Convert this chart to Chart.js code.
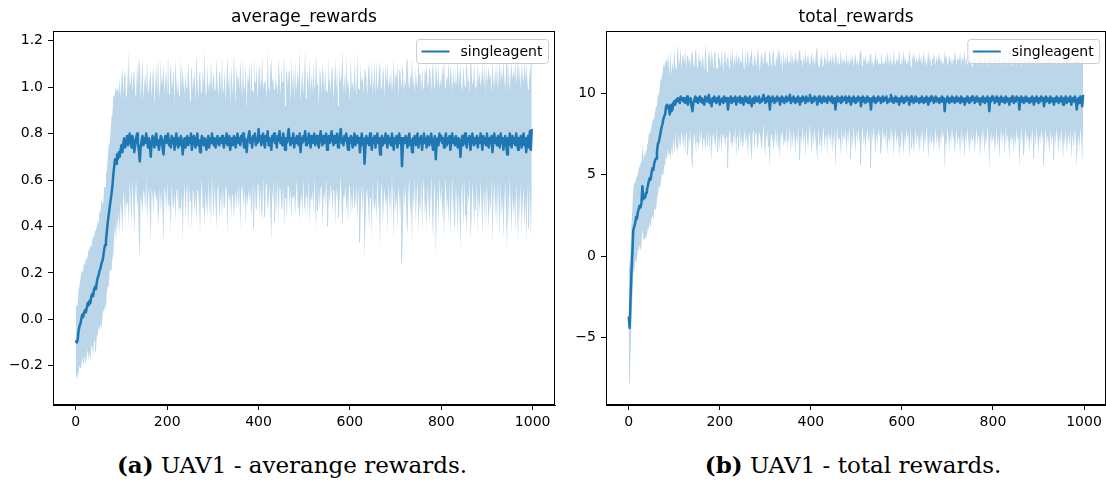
<!DOCTYPE html>
<html>
<head>
<meta charset="utf-8">
<script src="https://cdn.jsdelivr.net/npm/chart.js@4.4.0/dist/chart.umd.min.js"></script>
<style>
  html, body { margin: 0; padding: 0; background: #fff; overflow: hidden; }
  body { width: 1106px; height: 482px; position: relative; }
  .panel { position: absolute; top: 0; }
  .caption {
    position: absolute; top: 453px;
    font-family: 'DejaVu Serif', serif; font-size: 23px; line-height: 23px;
    white-space: nowrap; transform: translateX(-50%); color: #000;
  }
</style>
</head>
<body>
<div class="panel" style="left:0"><canvas id="avgChart" width="562" height="440"></canvas></div>
<div class="panel" style="left:553px"><canvas id="totChart" width="562" height="440"></canvas></div>
<div class="caption" style="left:292px"><b>(a)</b> UAV1 - averange rewards.</div>
<div class="caption" style="left:853px"><b>(b)</b> UAV1 - total rewards.</div>

<script>
// Episodes are logged every STEP episodes (0, 2, ... 998), 20 values per row = 40 episodes
const STEP = 2;
const seriesName = 'singleagent';

const xTicks = [0, 200, 400, 600, 800, 1000];
const avgTicks = [-0.2, 0.0, 0.2, 0.4, 0.6, 0.8, 1.0, 1.2];
const totTicks = [-5, 0, 5, 10];

// average_rewards: mean and std per logged episode
const avgMean = [
  -0.09, -0.10, -0.09, -0.05, -0.03, -0.02, 0.00, 0.02, 0.01, 0.03,  0.04, 0.03, 0.05, 0.07, 0.06, 0.08, 0.07, 0.10, 0.11, 0.10,
  0.13, 0.14, 0.13, 0.16, 0.18, 0.19, 0.21, 0.22, 0.24, 0.25,  0.27, 0.30, 0.32, 0.34, 0.38, 0.42, 0.45, 0.48, 0.51, 0.54,
  0.57, 0.62, 0.66, 0.69, 0.67, 0.71, 0.69, 0.72, 0.70, 0.73,  0.75, 0.72, 0.76, 0.78, 0.74, 0.77, 0.79, 0.75, 0.78, 0.80,
  0.76, 0.74, 0.79, 0.77, 0.72, 0.75, 0.78, 0.80, 0.76, 0.73,  0.68, 0.74, 0.77, 0.79, 0.75, 0.78, 0.76, 0.80, 0.77, 0.74,
  0.78, 0.75, 0.70, 0.76, 0.79, 0.77, 0.74, 0.78, 0.80, 0.75,  0.77, 0.73, 0.76, 0.79, 0.78, 0.74, 0.71, 0.77, 0.79, 0.76,
  0.78, 0.80, 0.75, 0.77, 0.74, 0.79, 0.76, 0.78, 0.73, 0.77,  0.80, 0.76, 0.74, 0.78, 0.75, 0.79, 0.77, 0.71, 0.76, 0.78,
  0.74, 0.77, 0.79, 0.75, 0.78, 0.76, 0.80, 0.73, 0.77, 0.79,  0.76, 0.74, 0.78, 0.80, 0.75, 0.77, 0.72, 0.76, 0.79, 0.77,
  0.75, 0.78, 0.76, 0.73, 0.77, 0.79, 0.74, 0.78, 0.76, 0.80,  0.77, 0.75, 0.78, 0.74, 0.76, 0.79, 0.77, 0.75, 0.78, 0.76,
  0.79, 0.77, 0.74, 0.78, 0.76, 0.80, 0.75, 0.77, 0.79, 0.73,  0.76, 0.78, 0.75, 0.79, 0.77, 0.74, 0.78, 0.80, 0.76, 0.78,
  0.75, 0.79, 0.77, 0.80, 0.74, 0.78, 0.76, 0.72, 0.77, 0.79,  0.81, 0.76, 0.78, 0.74, 0.79, 0.77, 0.80, 0.75, 0.78, 0.76,
  0.82, 0.77, 0.79, 0.75, 0.78, 0.80, 0.76, 0.74, 0.79, 0.77,  0.81, 0.75, 0.78, 0.76, 0.73, 0.79, 0.77, 0.80, 0.76, 0.78,
  0.74, 0.79, 0.77, 0.81, 0.76, 0.78, 0.75, 0.80, 0.77, 0.73,  0.78, 0.76, 0.79, 0.82, 0.77, 0.75, 0.78, 0.76, 0.80, 0.74,
  0.78, 0.76, 0.79, 0.77, 0.75, 0.80, 0.72, 0.78, 0.76, 0.79,  0.77, 0.81, 0.75, 0.78, 0.76, 0.80, 0.77, 0.74, 0.79, 0.76,
  0.78, 0.80, 0.75, 0.77, 0.79, 0.76, 0.74, 0.78, 0.81, 0.77,  0.75, 0.79, 0.76, 0.78, 0.80, 0.73, 0.77, 0.79, 0.76, 0.78,
  0.81, 0.77, 0.75, 0.79, 0.76, 0.78, 0.80, 0.74, 0.77, 0.79,  0.82, 0.76, 0.78, 0.75, 0.79, 0.77, 0.80, 0.76, 0.73, 0.78,
  0.76, 0.79, 0.77, 0.74, 0.78, 0.80, 0.75, 0.77, 0.79, 0.76,  0.78, 0.72, 0.77, 0.80, 0.75, 0.78, 0.67, 0.74, 0.79, 0.76,
  0.78, 0.75, 0.80, 0.77, 0.73, 0.78, 0.76, 0.79, 0.74, 0.77,  0.80, 0.76, 0.78, 0.71, 0.77, 0.79, 0.75, 0.78, 0.76, 0.80,
  0.77, 0.74, 0.79, 0.76, 0.78, 0.75, 0.80, 0.77, 0.73, 0.78,  0.76, 0.79, 0.74, 0.77, 0.80, 0.76, 0.78, 0.66, 0.75, 0.78,
  0.76, 0.79, 0.77, 0.74, 0.78, 0.80, 0.75, 0.77, 0.72, 0.78,  0.76, 0.79, 0.75, 0.77, 0.80, 0.74, 0.78, 0.76, 0.79, 0.73,
  0.77, 0.80, 0.76, 0.78, 0.74, 0.79, 0.77, 0.75, 0.78, 0.80,  0.76, 0.73, 0.77, 0.79, 0.69, 0.76, 0.78, 0.75, 0.80, 0.77,
  0.79, 0.76, 0.78, 0.74, 0.77, 0.80, 0.75, 0.78, 0.76, 0.79,  0.73, 0.77, 0.80, 0.76, 0.78, 0.75, 0.79, 0.77, 0.74, 0.78,
  0.76, 0.70, 0.77, 0.79, 0.75, 0.78, 0.80, 0.76, 0.74, 0.78,  0.77, 0.79, 0.73, 0.76, 0.80, 0.77, 0.75, 0.78, 0.76, 0.79,
  0.74, 0.78, 0.76, 0.80, 0.77, 0.73, 0.79, 0.76, 0.78, 0.75,  0.80, 0.77, 0.74, 0.78, 0.76, 0.79, 0.72, 0.77, 0.80, 0.76,
  0.78, 0.75, 0.79, 0.77, 0.74, 0.80, 0.76, 0.78, 0.73, 0.77,  0.79, 0.76, 0.71, 0.78, 0.75, 0.80, 0.77, 0.74, 0.79, 0.76,
  0.78, 0.75, 0.80, 0.77, 0.73, 0.78, 0.76, 0.79, 0.74, 0.77,  0.80, 0.75, 0.78, 0.72, 0.77, 0.79, 0.74, 0.81, 0.73, 0.82
];
const avgStd = [
  0.14, 0.16, 0.15, 0.18, 0.17, 0.19, 0.21, 0.18, 0.20, 0.22,  0.19, 0.23, 0.21, 0.20, 0.24, 0.22, 0.25, 0.21, 0.23, 0.26,
  0.22, 0.24, 0.27, 0.23, 0.25, 0.22, 0.26, 0.24, 0.28, 0.25,  0.23, 0.27, 0.25, 0.29, 0.26, 0.28, 0.31, 0.27, 0.30, 0.33,
  0.31, 0.34, 0.30, 0.29, 0.33, 0.27, 0.31, 0.25, 0.34, 0.22,  0.29, 0.36, 0.21, 0.27, 0.33, 0.19, 0.30, 0.24, 0.38, 0.20,
  0.26, 0.33, 0.19, 0.28, 0.36, 0.22, 0.18, 0.31, 0.25, 0.39,  0.42, 0.20, 0.27, 0.34, 0.19, 0.24, 0.30, 0.18, 0.35, 0.23,
  0.21, 0.29, 0.37, 0.19, 0.26, 0.32, 0.18, 0.24, 0.30, 0.21,  0.36, 0.27, 0.19, 0.33, 0.23, 0.29, 0.39, 0.20, 0.25, 0.31,
  0.18, 0.34, 0.22, 0.28, 0.37, 0.20, 0.26, 0.31, 0.19, 0.35,  0.24, 0.21, 0.30, 0.18, 0.27, 0.33, 0.22, 0.38, 0.25, 0.19,
  0.32, 0.23, 0.20, 0.36, 0.26, 0.18, 0.29, 0.34, 0.21, 0.25,  0.31, 0.19, 0.37, 0.24, 0.20, 0.28, 0.35, 0.22, 0.18, 0.30,
  0.26, 0.38, 0.21, 0.24, 0.33, 0.19, 0.29, 0.22, 0.36, 0.18,  0.27, 0.31, 0.20, 0.25, 0.37, 0.23, 0.19, 0.32, 0.28, 0.21,
  0.35, 0.20, 0.26, 0.30, 0.18, 0.24, 0.39, 0.22, 0.28, 0.19,  0.33, 0.25, 0.21, 0.36, 0.27, 0.18, 0.31, 0.23, 0.29, 0.20,
  0.37, 0.24, 0.19, 0.32, 0.26, 0.21, 0.35, 0.18, 0.28, 0.23,  0.30, 0.20, 0.34, 0.25, 0.19, 0.38, 0.22, 0.27, 0.31, 0.18,
  0.24, 0.33, 0.21, 0.28, 0.36, 0.19, 0.26, 0.30, 0.22, 0.18,  0.35, 0.25, 0.20, 0.32, 0.39, 0.23, 0.27, 0.19, 0.34, 0.21,
  0.29, 0.18, 0.36, 0.24, 0.20, 0.31, 0.27, 0.22, 0.38, 0.19,  0.26, 0.33, 0.21, 0.25, 0.30, 0.18, 0.35, 0.23, 0.28, 0.20,
  0.34, 0.22, 0.19, 0.30, 0.26, 0.37, 0.21, 0.24, 0.32, 0.18,  0.28, 0.35, 0.20, 0.25, 0.31, 0.19, 0.36, 0.23, 0.27, 0.21,
  0.33, 0.19, 0.26, 0.38, 0.22, 0.29, 0.18, 0.31, 0.24, 0.20,  0.35, 0.27, 0.21, 0.30, 0.19, 0.25, 0.37, 0.23, 0.28, 0.20,
  0.26, 0.32, 0.19, 0.24, 0.36, 0.21, 0.29, 0.18, 0.33, 0.25,  0.20, 0.30, 0.38, 0.22, 0.27, 0.19, 0.34, 0.24, 0.31, 0.21,
  0.18, 0.35, 0.23, 0.28, 0.20, 0.32, 0.26, 0.19, 0.37, 0.24,  0.21, 0.39, 0.27, 0.22, 0.30, 0.19, 0.41, 0.33, 0.25, 0.20,
  0.29, 0.36, 0.21, 0.25, 0.38, 0.19, 0.27, 0.32, 0.22, 0.35,  0.18, 0.26, 0.30, 0.40, 0.23, 0.20, 0.34, 0.28, 0.19, 0.31,
  0.24, 0.37, 0.20, 0.29, 0.22, 0.33, 0.18, 0.26, 0.39, 0.21,  0.30, 0.25, 0.36, 0.19, 0.27, 0.32, 0.23, 0.42, 0.34, 0.20,
  0.28, 0.21, 0.35, 0.38, 0.24, 0.19, 0.31, 0.26, 0.40, 0.22,  0.29, 0.18, 0.33, 0.25, 0.20, 0.37, 0.27, 0.30, 0.19, 0.36,
  0.23, 0.19, 0.32, 0.27, 0.36, 0.21, 0.25, 0.34, 0.29, 0.18,  0.31, 0.38, 0.24, 0.20, 0.42, 0.30, 0.22, 0.35, 0.19, 0.27,
  0.21, 0.33, 0.26, 0.39, 0.23, 0.19, 0.30, 0.25, 0.36, 0.20,  0.37, 0.28, 0.18, 0.32, 0.24, 0.35, 0.21, 0.27, 0.38, 0.22,
  0.30, 0.40, 0.24, 0.19, 0.35, 0.26, 0.20, 0.31, 0.37, 0.23,  0.28, 0.18, 0.39, 0.33, 0.21, 0.25, 0.36, 0.22, 0.29, 0.19,
  0.37, 0.24, 0.31, 0.20, 0.27, 0.38, 0.22, 0.34, 0.19, 0.36,  0.21, 0.28, 0.35, 0.25, 0.30, 0.18, 0.40, 0.26, 0.20, 0.33,
  0.23, 0.36, 0.19, 0.29, 0.38, 0.21, 0.32, 0.25, 0.39, 0.27,  0.20, 0.34, 0.41, 0.22, 0.35, 0.18, 0.28, 0.37, 0.24, 0.31,
  0.26, 0.38, 0.21, 0.30, 0.40, 0.24, 0.33, 0.19, 0.37, 0.28,  0.22, 0.36, 0.25, 0.39, 0.27, 0.20, 0.35, 0.23, 0.38, 0.29
];

// total_rewards: mean and std per logged episode
const totMean = [
  -3.7, -4.4, -2.6, -1.0, 0.2, 1.6, 1.8, 2.0, 2.4, 2.3,  2.7, 2.9, 3.1, 3.0, 3.3, 4.3, 3.5, 3.7, 3.6, 3.9,
  4.1, 4.3, 4.6, 4.8, 4.7, 5.1, 5.4, 5.3, 5.7, 5.9,  6.0, 6.4, 6.9, 7.0, 7.3, 7.6, 7.9, 8.1, 8.4, 8.6,
  8.7, 9.2, 9.3, 9.1, 9.2, 8.7, 9.3, 8.9, 9.0, 9.4,  9.5, 9.3, 9.6, 9.5, 9.7, 9.6, 9.4, 9.8, 9.6, 9.7,
  9.5, 9.7, 9.4, 9.6, 9.8, 9.3, 9.6, 9.5, 9.7, 9.2,  8.9, 9.4, 9.6, 9.8, 9.5, 9.7, 9.4, 9.6, 9.8, 9.5,
  9.7, 9.4, 9.6, 9.3, 9.8, 9.6, 9.5, 9.7, 9.9, 9.4,  9.6, 9.2, 9.7, 9.5, 9.8, 9.6, 9.4, 9.7, 9.5, 9.8,
  9.3, 9.6, 9.5, 9.7, 9.4, 9.8, 9.6, 9.5, 9.7, 9.0,  9.5, 9.6, 9.8, 9.4, 9.7, 9.5, 9.6, 9.8, 9.3, 9.6,
  9.7, 9.5, 9.8, 9.4, 9.6, 9.7, 9.3, 9.6, 9.8, 9.5,  9.7, 9.4, 9.6, 9.8, 9.5, 9.2, 9.6, 9.7, 9.4, 9.8,
  9.6, 9.5, 9.7, 9.8, 9.4, 9.6, 9.5, 9.7, 9.9, 9.6,  9.4, 9.7, 9.5, 9.8, 9.6, 9.0, 9.7, 9.5, 9.8, 9.6,
  9.4, 9.7, 9.5, 9.8, 9.6, 9.7, 9.3, 9.6, 9.8, 9.5,  9.7, 9.4, 9.6, 9.8, 9.5, 9.7, 9.6, 9.9, 9.4, 9.7,
  9.5, 9.8, 9.6, 9.4, 9.7, 9.5, 9.8, 9.6, 9.3, 9.7,  9.5, 9.8, 9.6, 9.7, 9.4, 9.8, 9.6, 9.5, 9.7, 9.9,
  9.6, 9.4, 9.7, 9.5, 9.8, 9.6, 9.7, 9.3, 9.6, 9.8,  9.5, 9.7, 9.4, 9.6, 9.8, 9.5, 9.7, 9.6, 9.4, 9.8,
  9.6, 9.7, 9.5, 9.8, 9.4, 9.6, 9.7, 9.0, 9.6, 9.8,  9.5, 9.7, 9.6, 9.4, 9.8, 9.5, 9.7, 9.6, 9.8, 9.4,
  9.7, 9.5, 9.8, 9.6, 9.3, 9.7, 9.5, 9.8, 9.6, 9.4,  9.7, 9.5, 9.8, 9.6, 9.7, 9.2, 9.6, 9.8, 9.5, 9.7,
  9.4, 9.6, 9.8, 9.5, 9.7, 9.6, 9.0, 9.7, 9.5, 9.8,  9.6, 9.4, 9.7, 9.5, 9.8, 9.6, 9.7, 9.4, 9.6, 9.8,
  9.5, 9.7, 9.6, 9.8, 9.4, 9.6, 9.5, 9.7, 9.9, 9.5,  9.7, 9.4, 9.6, 9.8, 9.5, 9.7, 9.6, 9.3, 9.7, 9.5,
  9.8, 9.6, 9.4, 9.7, 9.5, 9.8, 9.6, 9.7, 9.3, 9.6,  9.8, 9.5, 9.7, 9.4, 9.6, 9.8, 9.5, 9.7, 9.6, 9.4,
  9.7, 9.5, 9.8, 9.6, 9.4, 9.7, 9.5, 9.8, 9.6, 9.3,  9.7, 9.5, 9.8, 9.6, 9.7, 9.4, 9.6, 9.8, 9.5, 9.7,
  9.6, 9.4, 9.7, 9.5, 9.8, 9.6, 9.7, 8.9, 9.6, 9.5,  9.8, 9.6, 9.4, 9.7, 9.5, 9.8, 9.6, 9.7, 9.4, 9.6,
  9.8, 9.5, 9.7, 9.6, 9.4, 9.8, 9.5, 9.7, 9.6, 9.3,  9.7, 9.5, 9.8, 9.6, 9.4, 9.7, 9.5, 9.8, 9.6, 9.7,
  9.4, 9.6, 9.8, 9.5, 9.7, 9.6, 9.3, 9.7, 9.5, 9.8,  9.6, 9.4, 9.7, 9.5, 9.8, 9.6, 8.9, 9.7, 9.5, 9.8,
  9.6, 9.7, 9.4, 9.6, 9.8, 9.5, 9.7, 9.3, 9.6, 9.8,  9.5, 9.7, 9.6, 9.4, 9.8, 9.5, 9.7, 9.6, 9.3, 9.7,
  9.5, 9.8, 9.6, 9.4, 9.7, 9.5, 9.8, 9.6, 9.7, 9.0,  9.6, 9.8, 9.5, 9.7, 9.4, 9.6, 9.8, 9.5, 9.7, 9.6,
  9.4, 9.7, 9.5, 9.8, 9.6, 9.3, 9.7, 9.5, 9.8, 9.6,  9.4, 9.7, 9.5, 9.8, 9.6, 9.7, 9.2, 9.6, 9.8, 9.5,
  9.7, 9.6, 9.4, 9.8, 9.5, 9.7, 9.6, 9.3, 9.7, 9.5,  9.8, 9.6, 9.4, 9.7, 9.5, 9.8, 9.6, 9.3, 9.7, 9.5,
  9.8, 9.4, 9.6, 9.7, 9.5, 9.8, 9.3, 9.6, 9.7, 9.5,  9.8, 9.6, 9.0, 9.5, 9.7, 9.4, 9.8, 9.6, 9.2, 9.9
];
const totStd = [
  3.9, 3.6, 3.3, 3.0, 2.8, 2.6, 2.7, 2.5, 2.4, 2.6,  2.3, 2.5, 2.4, 2.7, 2.5, 2.6, 2.4, 2.7, 2.5, 2.6,
  2.8, 2.6, 2.9, 2.7, 3.0, 2.8, 2.9, 3.1, 2.8, 3.0,  3.2, 2.9, 3.1, 2.8, 3.0, 3.3, 2.9, 3.1, 3.4, 3.0,
  3.2, 2.8, 3.3, 2.5, 3.1, 2.3, 3.4, 2.2, 2.9, 2.0,  3.2, 2.4, 1.9, 2.8, 3.3, 2.1, 2.6, 3.0, 1.9, 2.5,
  2.9, 2.1, 3.3, 1.9, 2.5, 3.1, 2.2, 2.7, 1.9, 3.4,  3.6, 2.3, 2.0, 2.8, 3.2, 1.9, 2.4, 3.0, 2.1, 2.6,
  1.9, 3.1, 2.4, 2.0, 3.3, 2.6, 1.8, 2.9, 2.2, 3.2,  2.0, 3.5, 2.5, 1.9, 2.7, 3.0, 2.2, 1.8, 3.1, 2.4,
  2.8, 2.0, 3.2, 2.3, 1.9, 2.6, 3.0, 2.1, 2.5, 3.6,  2.2, 1.8, 2.9, 2.4, 3.1, 2.0, 2.7, 1.9, 3.3, 2.2,
  2.5, 3.0, 1.9, 2.7, 2.2, 3.2, 2.4, 1.8, 2.9, 2.1,  2.6, 3.3, 2.0, 2.4, 2.8, 3.5, 2.2, 1.9, 3.0, 2.3,
  2.0, 2.7, 3.1, 2.2, 1.9, 2.6, 3.0, 2.4, 1.8, 2.8,  3.3, 2.1, 2.5, 1.9, 2.9, 3.6, 2.3, 2.0, 2.7, 3.1,
  2.4, 1.9, 2.8, 2.1, 3.2, 2.5, 3.4, 2.0, 2.6, 1.8,  3.0, 2.3, 2.7, 1.9, 3.1, 2.2, 2.5, 1.8, 3.3, 2.1,
  2.9, 2.0, 2.4, 3.2, 2.2, 2.7, 1.9, 3.0, 3.4, 2.3,  2.6, 1.8, 2.8, 2.1, 3.3, 2.0, 2.5, 2.9, 2.2, 1.8,
  2.6, 3.1, 2.1, 2.8, 1.9, 2.4, 3.0, 3.5, 2.2, 1.8,  2.7, 2.3, 3.2, 2.0, 1.9, 2.9, 2.4, 2.1, 3.3, 2.0,
  2.5, 2.2, 2.9, 1.9, 3.1, 2.4, 2.0, 3.6, 2.6, 1.8,  2.8, 2.1, 2.4, 3.3, 1.9, 2.7, 2.2, 2.5, 1.9, 3.2,
  2.1, 2.7, 1.9, 2.4, 3.3, 2.2, 2.8, 1.8, 2.5, 3.1,  2.0, 2.6, 1.9, 2.3, 2.9, 3.6, 2.1, 1.8, 2.7, 2.2,
  3.0, 2.3, 1.9, 2.6, 2.1, 2.8, 3.6, 2.0, 2.5, 1.8,  2.4, 3.2, 2.2, 2.7, 1.9, 2.3, 2.1, 3.1, 2.6, 1.9,
  2.4, 2.1, 2.8, 1.9, 3.2, 2.5, 2.2, 2.9, 1.8, 2.6,  2.0, 3.3, 2.4, 1.9, 2.7, 2.2, 2.5, 3.4, 2.1, 2.8,
  1.9, 2.6, 3.2, 2.2, 2.7, 1.9, 2.4, 2.1, 3.4, 2.5,  1.8, 2.9, 2.3, 3.1, 2.6, 2.0, 2.8, 2.2, 2.4, 3.2,
  2.2, 2.8, 1.9, 2.5, 3.2, 2.1, 2.7, 1.8, 2.4, 3.4,  2.2, 2.9, 1.9, 2.6, 2.3, 3.1, 2.5, 1.9, 2.8, 2.2,
  2.6, 3.1, 2.2, 2.7, 1.9, 2.4, 2.1, 3.7, 2.5, 2.8,  1.9, 2.3, 3.0, 2.2, 2.7, 1.8, 2.5, 2.3, 3.2, 2.6,
  1.9, 2.7, 2.3, 2.5, 3.2, 1.9, 2.8, 2.2, 2.6, 3.3,  2.0, 2.7, 1.9, 2.4, 3.1, 2.3, 2.8, 1.8, 2.5, 2.2,
  3.2, 2.4, 1.9, 2.7, 2.2, 2.5, 3.3, 2.0, 2.8, 1.9,  2.4, 3.1, 2.3, 2.6, 1.8, 2.5, 3.7, 2.1, 2.7, 2.0,
  2.5, 2.2, 3.1, 2.6, 1.9, 2.8, 2.3, 3.4, 2.5, 1.9,  2.7, 2.1, 2.4, 3.2, 1.8, 2.6, 2.2, 2.5, 3.4, 2.3,
  2.7, 1.9, 2.4, 3.1, 2.2, 2.8, 1.9, 2.5, 2.3, 3.6,  2.6, 1.8, 2.8, 2.1, 3.2, 2.4, 1.9, 2.7, 2.2, 2.5,
  3.1, 2.2, 2.7, 1.9, 2.5, 3.3, 2.1, 2.8, 1.9, 2.4,  3.1, 2.3, 2.6, 1.9, 2.5, 2.2, 3.6, 2.4, 1.9, 2.8,
  2.3, 2.6, 3.2, 1.9, 2.8, 2.2, 2.5, 3.4, 2.1, 2.7,  1.9, 2.4, 3.2, 2.2, 2.8, 1.9, 2.5, 3.4, 2.3, 2.7,
  2.0, 3.1, 2.5, 2.2, 2.8, 1.9, 3.4, 2.4, 2.2, 2.7,  1.9, 2.5, 3.6, 2.6, 2.2, 3.0, 1.9, 2.4, 3.5, 2.3
];

const BLUE = '#1f77b4';
const BAND = 'rgba(31, 119, 180, 0.3)';

Chart.defaults.font.family = "'DejaVu Sans', sans-serif";
Chart.defaults.font.size = 14;
Chart.defaults.color = '#000';

const minus = v => (v < 0 ? '\u2212' : '') + Math.abs(v);

// Axes frame on all four sides plus a matplotlib style legend box
const frameLegend = {
  id: 'frameLegend',
  afterDraw(chart) {
    const { ctx, chartArea: a } = chart;
    ctx.save();
    ctx.strokeStyle = '#000';
    ctx.lineWidth = 1;
    ctx.strokeRect(Math.round(a.left) + 0.5, Math.round(a.top) + 0.5,
      Math.round(a.right - a.left) - 1, Math.round(a.bottom - a.top) - 1);

    const ds = chart.data.datasets[2];
    const w = 132, h = 24;
    const x = a.right - 7 - w, y = a.top + 8;
    ctx.beginPath();
    ctx.roundRect(x + 0.5, y + 0.5, w, h, 3);
    ctx.fillStyle = 'rgba(255,255,255,0.8)';
    ctx.fill();
    ctx.strokeStyle = '#cccccc';
    ctx.stroke();

    ctx.beginPath();
    ctx.moveTo(x + 5.5, y + h / 2 + 0.5);
    ctx.lineTo(x + 33.5, y + h / 2 + 0.5);
    ctx.strokeStyle = ds.borderColor;
    ctx.lineWidth = 2;
    ctx.stroke();

    ctx.fillStyle = '#000';
    ctx.font = "14px 'DejaVu Sans'";
    ctx.textBaseline = 'middle';
    ctx.fillText(ds.label, x + 44.5, y + h / 2 + 1);
    ctx.restore();
  }
};

function axisStyle() {
  return {
    grid: { display: true, drawOnChartArea: false, drawTicks: true, tickLength: 5, tickColor: '#000', tickWidth: 1 },
    border: { display: true, color: '#000', width: 1 }
  };
}

function makeChart(id, title, mean, std, yMin, yMax, yTicks, yFmt, padRight) {
  const pts = arr => arr.map((v, i) => ({ x: i * STEP, y: v }));
  const upper = mean.map((m, i) => m + std[i]);
  const lower = mean.map((m, i) => m - std[i]);

  return new Chart(document.getElementById(id), {
    type: 'line',
    data: {
      datasets: [
        { label: 'lower', data: pts(lower), borderWidth: 0, borderColor: 'rgba(0,0,0,0)', pointRadius: 0, fill: false },
        { label: 'upper', data: pts(upper), borderWidth: 0, borderColor: 'rgba(0,0,0,0)', pointRadius: 0, fill: '-1', backgroundColor: BAND },
        { label: seriesName, data: pts(mean), borderColor: BLUE, borderWidth: 2.5, borderJoinStyle: 'round', pointRadius: 0, fill: false }
      ]
    },
    options: {
      responsive: false,
      animation: false,
      layout: { padding: { left: 0, top: 0, bottom: 0, right: padRight } },
      plugins: {
        legend: { display: false },
        tooltip: { enabled: false },
        title: {
          display: true, text: title, fullSize: false, color: '#000',
          font: { size: 17, weight: 'normal' },
          padding: { top: 7, bottom: 3.6 }
        }
      },
      scales: {
        x: {
          type: 'linear', min: -49.95, max: 1048.95,
          ...axisStyle(),
          afterBuildTicks: s => { s.ticks = xTicks.map(v => ({ value: v })); },
          afterFit: s => { s.height = 35; },
          ticks: { padding: 4, autoSkip: false, maxRotation: 0, callback: v => String(v) }
        },
        y: {
          type: 'linear', min: yMin, max: yMax,
          ...axisStyle(),
          afterBuildTicks: s => { s.ticks = yTicks.map(v => ({ value: v })); },
          afterFit: s => { s.width = 53; },
          ticks: { padding: 5, autoSkip: false, callback: yFmt }
        }
      }
    },
    plugins: [frameLegend]
  });
}

makeChart('avgChart', 'average_rewards', avgMean, avgStd, -0.369, 1.242, avgTicks,
  v => (v < 0 ? '\u2212' : '') + Math.abs(v).toFixed(1), 7);
makeChart('totChart', 'total_rewards', totMean, totStd, -9.13, 13.82, totTicks,
  v => minus(v), 8.7);
</script>
</body>
</html>
